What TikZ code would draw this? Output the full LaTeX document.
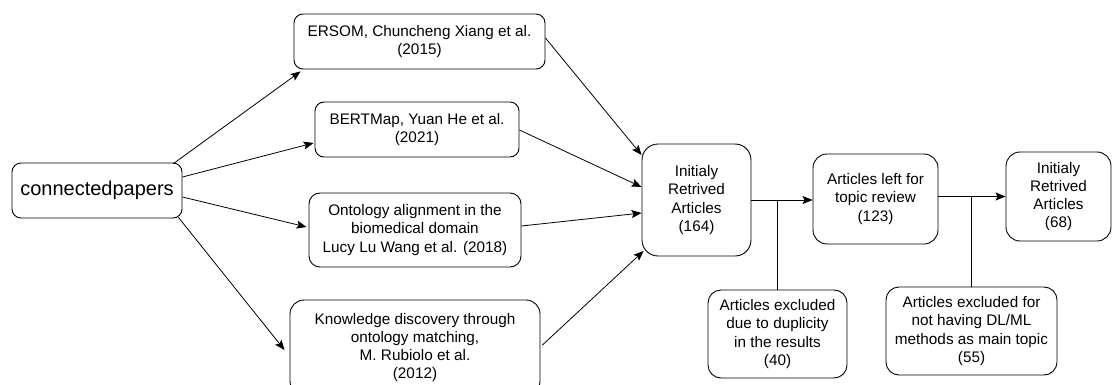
\documentclass[tikz,border=0pt]{standalone}
\usepackage{fontspec}
\setmainfont{Liberation Sans}
\usetikzlibrary{arrows.meta}
\begin{document}
\begin{tikzpicture}[x=1pt,y=-1pt,
  box/.style={draw=black, line width=0.9pt, inner sep=0pt, align=center,
    font=\fontsize{15.3}{18.3}\selectfont},
  conn/.style={draw=black, line width=0.8pt},
  arr/.style={conn, -{Stealth[length=10pt,width=8pt,inset=2pt]}}]
\useasboundingbox (0,0) rectangle (1115,385);
\fill[white] (0,0) rectangle (1115,385);

\node[box, minimum width=170pt, minimum height=55pt, rounded corners=9pt,
  font=\fontsize{20}{24}\selectfont] (cp) at (97,190.5) {connectedpapers};

\node[box, minimum width=251pt, minimum height=55pt, rounded corners=9pt] (ersom) at (419.5,41.5)
  {ERSOM, Chuncheng Xiang et al.\\(2015)};
\node[box, minimum width=204pt, minimum height=55pt, rounded corners=9pt] (bert) at (417,129.5)
  {BERTMap, Yuan He et al.\\(2021)};
\node[box, minimum width=212pt, minimum height=74pt, rounded corners=11pt] (ont) at (415,230)
  {Ontology alignment in the\\biomedical domain\\Lucy Lu Wang et al. (2018)};
\node[box, minimum width=250pt, minimum height=95pt, rounded corners=14pt] (know) at (415,347.5)
  {Knowledge discovery through\\ontology matching,\\M. Rubiolo et al.\\(2012)};

\node[box, minimum width=109pt, minimum height=112pt, rounded corners=16pt] (init) at (696.5,200)
  {Initialy\\Retrived\\Articles\\(164)};
\node[box, minimum width=125pt, minimum height=90pt, rounded corners=14pt] (art) at (875.5,199)
  {Articles left for\\topic review\\(123)};
\node[box, minimum width=105pt, minimum height=89pt, rounded corners=14pt] (final) at (1058.5,196.5)
  {Initialy\\Retrived\\Articles\\(68)};

\node[box, minimum width=139pt, minimum height=88pt, rounded corners=13pt] (ex1) at (777.5,334)
  {Articles excluded\\due to duplicity\\in the results\\(40)};
\node[box, minimum width=171pt, minimum height=88pt, rounded corners=13pt] (ex2) at (971.5,331)
  {Articles excluded for\\not having DL/ML\\methods as main topic\\(55)};

% connectedpapers to papers
\draw[arr] ([xshift=-9pt,yshift=-1pt]cp.north east) -- ([xshift=7pt,yshift=-2pt]ersom.south west);
\draw[arr] ([yshift=13.5pt]cp.east) -- ([xshift=-1pt,yshift=-13.5pt]bert.west);
\draw[arr] ([yshift=-6.5pt]cp.east) -- ([xshift=-2pt,yshift=3pt]ont.west);
\draw[arr] ([xshift=-4pt,yshift=1pt]cp.south east) -- ([xshift=-5pt,yshift=-2.5pt]know.west);

% papers to initial
\draw[arr] ([yshift=3.5pt]ersom.east) -- ([yshift=45pt]init.west);
\draw[arr] ([yshift=-0.5pt]bert.east) -- ([yshift=13pt]init.west);
\draw[arr] ([yshift=4pt]ont.east) -- ([yshift=-13pt]init.west);
\draw[arr] ([xshift=2pt,yshift=2.5pt]know.east) -- ([xshift=2pt,yshift=-51pt]init.west);

% flow
\draw[arr] (init.east) -- (init.east -| art.west);
\draw[conn] (ex1.north) -- (ex1.north |- init.east);
\draw[arr] (final.west -| art.east) -- (final.west);
\draw[conn] (ex2.north) -- (ex2.north |- final.west);
\end{tikzpicture}
\end{document}
